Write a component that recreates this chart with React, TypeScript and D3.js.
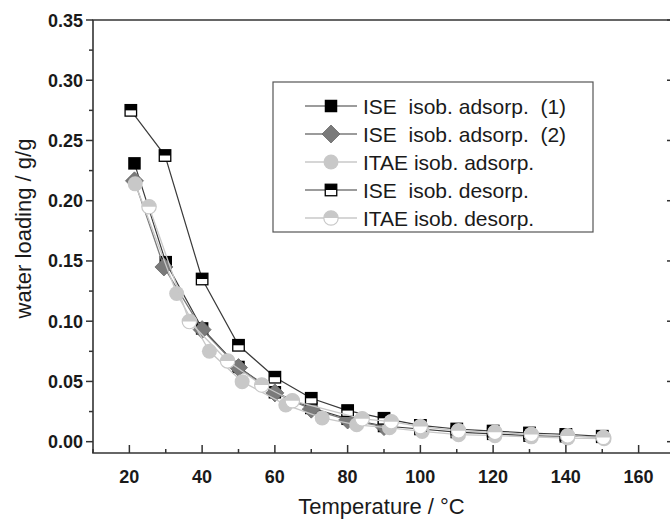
import React from "react";
import * as d3 from "d3";

// ---- data ----
const T_ISE_ADS1 = [21.4, 30, 40, 50, 60, 70, 80, 90, 100, 110, 120, 130, 140, 150];
const W_ISE_ADS1 = [0.231, 0.149, 0.094, 0.062, 0.041, 0.028, 0.019, 0.013, 0.0105, 0.008, 0.0065, 0.005, 0.0045, 0.004];

const T_ISE_ADS2 = [21.4, 29.5, 40, 50, 60, 70, 80, 90];
const W_ISE_ADS2 = [0.2165, 0.145, 0.093, 0.0615, 0.0405, 0.027, 0.018, 0.0125];

const T_ITAE_ADS = [21.6, 33, 42, 51, 63, 73, 82.5, 91.5, 100.5, 110.5, 120.5, 130.5, 140.5, 150.5];
const W_ITAE_ADS = [0.214, 0.123, 0.075, 0.0498, 0.0305, 0.0197, 0.014, 0.0115, 0.0085, 0.0058, 0.005, 0.004, 0.003, 0.0025];

const T_ISE_DES = [20.4, 29.8, 40, 50, 60, 70, 80, 90, 100, 110, 120, 130, 140, 150];
const W_ISE_DES = [0.275, 0.2375, 0.135, 0.08, 0.0535, 0.036, 0.0258, 0.0194, 0.0135, 0.0105, 0.0088, 0.0072, 0.006, 0.0045];

const T_ITAE_DES = [25.4, 36.5, 47, 56.4, 64.8, 84, 92, 100, 110.5, 120.5, 130.5, 140.5, 150.3];
const W_ITAE_DES = [0.195, 0.0997, 0.067, 0.047, 0.034, 0.019, 0.0166, 0.0125, 0.009, 0.0078, 0.006, 0.0048, 0.0035];

const X_TICKS = [20, 40, 60, 80, 100, 120, 140, 160];
const Y_TICKS = [0.0, 0.05, 0.1, 0.15, 0.2, 0.25, 0.3, 0.35];

const LEGEND_LABELS = [
  "ISE  isob. adsorp.  (1)",
  "ISE  isob. adsorp.  (2)",
  "ITAE isob. adsorp.",
  "ISE  isob. desorp.",
  "ITAE isob. desorp.",
];

const X_TITLE = "Temperature / °C";
const Y_TITLE = "water loading / g/g";

// ---- layout ----
const W = 670;
const H = 522;
const LEFT = 93;
const RIGHT = 675;
const TOP = 20;
const BOTTOM = 453;

const x = d3.scaleLinear().domain([10, 170]).range([LEFT, RIGHT]);
const y = d3.scaleLinear().domain([-0.0094, 0.35]).range([BOTTOM, TOP]);

const FONT = "'Liberation Sans', Arial, Helvetica, sans-serif";
const LIGHT = "#c8c8c8";
const MID = "#7a7a7a";

type Kind = "sq" | "dia" | "circ" | "halfsq" | "halfcirc";

function Marker({ kind, cx, cy }: { kind: Kind; cx: number; cy: number }) {
  if (kind === "sq") {
    const s = 12.5;
    return <rect x={cx - s / 2} y={cy - s / 2} width={s} height={s} fill="#000" />;
  }
  if (kind === "dia") {
    const r = 9;
    return (
      <path
        d={`M${cx},${cy - r}L${cx + r},${cy}L${cx},${cy + r}L${cx - r},${cy}Z`}
        fill={MID}
        stroke="#6a6a6a"
        strokeWidth={0.8}
      />
    );
  }
  if (kind === "circ") {
    return <circle cx={cx} cy={cy} r={7.5} fill={LIGHT} />;
  }
  if (kind === "halfsq") {
    const s = 11.5;
    return (
      <g>
        <rect x={cx - s / 2} y={cy - s / 2} width={s} height={s} fill="#fff" stroke="#000" strokeWidth={1.3} />
        <rect x={cx - s / 2} y={cy - s / 2} width={s} height={s / 2} fill="#000" />
      </g>
    );
  }
  // half circle: top light, bottom white
  const r = 7.2;
  return (
    <g>
      <circle cx={cx} cy={cy} r={r} fill="#fff" stroke={LIGHT} strokeWidth={1.2} />
      <path d={`M${cx - r},${cy}A${r},${r} 0 0 1 ${cx + r},${cy}Z`} fill={LIGHT} />
    </g>
  );
}

const SERIES: { t: number[]; w: number[]; kind: Kind; line: string; lw: number }[] = [
  { t: T_ISE_ADS1, w: W_ISE_ADS1, kind: "sq", line: "#3a3a3a", lw: 1.2 },
  { t: T_ISE_ADS2, w: W_ISE_ADS2, kind: "dia", line: MID, lw: 1.3 },
  { t: T_ITAE_ADS, w: W_ITAE_ADS, kind: "circ", line: LIGHT, lw: 1.3 },
  { t: T_ISE_DES, w: W_ISE_DES, kind: "halfsq", line: "#3a3a3a", lw: 1.2 },
  { t: T_ITAE_DES, w: W_ITAE_DES, kind: "halfcirc", line: LIGHT, lw: 1.3 },
];

export default function App() {
  const line = d3
    .line<[number, number]>()
    .x((d) => x(d[0]))
    .y((d) => y(d[1]));

  const xMinor = d3.range(10, 171, 10).filter((v) => v % 20 !== 0);
  const yMinor = d3.range(0, 8).map((i) => 0.025 + i * 0.05).filter((v) => v < 0.35);

  const legX = 273;
  const legY = 82;
  const legW = 320;
  const legH = 150;
  const rowY = (i: number) => 106 + i * 28;

  return (
    <svg
      width={W}
      height={H}
      style={{ position: "absolute", left: 0, top: 0, background: "#fff" }}
      fontFamily={FONT}
    >
      <rect x={0} y={0} width={W} height={H} fill="#fff" />

      {/* series */}
      {SERIES.map((s, si) => {
        const pts: [number, number][] = s.t.map((t, i) => [t, s.w[i]]);
        return (
          <g key={si}>
            <path d={line(pts) || ""} fill="none" stroke={s.line} strokeWidth={s.lw} />
            {pts.map((p, i) => (
              <Marker key={i} kind={s.kind} cx={x(p[0])} cy={y(p[1])} />
            ))}
          </g>
        );
      })}

      {/* frame */}
      <g stroke="#333" strokeWidth={1.6} fill="none">
        <line x1={LEFT} y1={TOP} x2={LEFT} y2={BOTTOM} />
        <line x1={LEFT - 0.8} y1={BOTTOM} x2={RIGHT} y2={BOTTOM} />
        <line x1={LEFT - 0.8} y1={TOP} x2={RIGHT} y2={TOP} />
        <line x1={RIGHT} y1={TOP} x2={RIGHT} y2={BOTTOM} />
      </g>

      {/* bottom ticks (inward) */}
      <g stroke="#333" strokeWidth={1.5}>
        {X_TICKS.map((t) => (
          <line key={"xm" + t} x1={x(t)} x2={x(t)} y1={BOTTOM} y2={BOTTOM - 8} />
        ))}
        {xMinor.map((t) => (
          <line key={"xn" + t} x1={x(t)} x2={x(t)} y1={BOTTOM} y2={BOTTOM - 4} />
        ))}
      </g>

      {/* left ticks (outward) */}
      <g stroke="#333" strokeWidth={1.5}>
        {Y_TICKS.map((v) => (
          <line key={"ym" + v} x1={LEFT} x2={LEFT - 7} y1={y(v)} y2={y(v)} />
        ))}
        {yMinor.map((v) => (
          <line key={"yn" + v} x1={LEFT} x2={LEFT - 4} y1={y(v)} y2={y(v)} />
        ))}
      </g>

      {/* right ticks (inward) */}
      <g stroke="#333" strokeWidth={1.5}>
        {Y_TICKS.map((v) => (
          <line key={"rm" + v} x1={RIGHT} x2={RIGHT - 8} y1={y(v)} y2={y(v)} />
        ))}
        {yMinor.map((v) => (
          <line key={"rn" + v} x1={RIGHT} x2={RIGHT - 4} y1={y(v)} y2={y(v)} stroke="#999" />
        ))}
      </g>

      {/* tick labels */}
      <g fill="#1a1a1a" fontWeight="bold" fontSize={18}>
        {X_TICKS.map((t) => (
          <text key={"xl" + t} x={x(t)} y={483} textAnchor="middle">
            {t}
          </text>
        ))}
        {Y_TICKS.map((v) => (
          <text key={"yl" + v} x={83} y={y(v) + 6.5} textAnchor="end">
            {v.toFixed(2)}
          </text>
        ))}
      </g>

      {/* axis titles */}
      <text x={(LEFT + 670) / 2} y={514} textAnchor="middle" fontSize={22} fill="#1a1a1a">
        {X_TITLE}
      </text>
      <text
        transform={`translate(31,${(TOP + BOTTOM) / 2 - 8}) rotate(-90)`}
        textAnchor="middle"
        fontSize={22}
        fill="#1a1a1a"
      >
        {Y_TITLE}
      </text>

      {/* legend */}
      <rect x={legX} y={legY} width={legW} height={legH} fill="#fff" stroke="#555" strokeWidth={1.2} />
      {LEGEND_LABELS.map((lab, i) => {
        const s = SERIES[i];
        const cy = rowY(i);
        return (
          <g key={"lg" + i}>
            <line x1={305} x2={357} y1={cy} y2={cy} stroke={s.line} strokeWidth={s.lw} />
            <Marker kind={s.kind} cx={331} cy={cy} />
            <text x={363} y={cy + 7.5} fontSize={21} fill="#1a1a1a" style={{ whiteSpace: "pre" }}>
              {lab}
            </text>
          </g>
        );
      })}
    </svg>
  );
}
